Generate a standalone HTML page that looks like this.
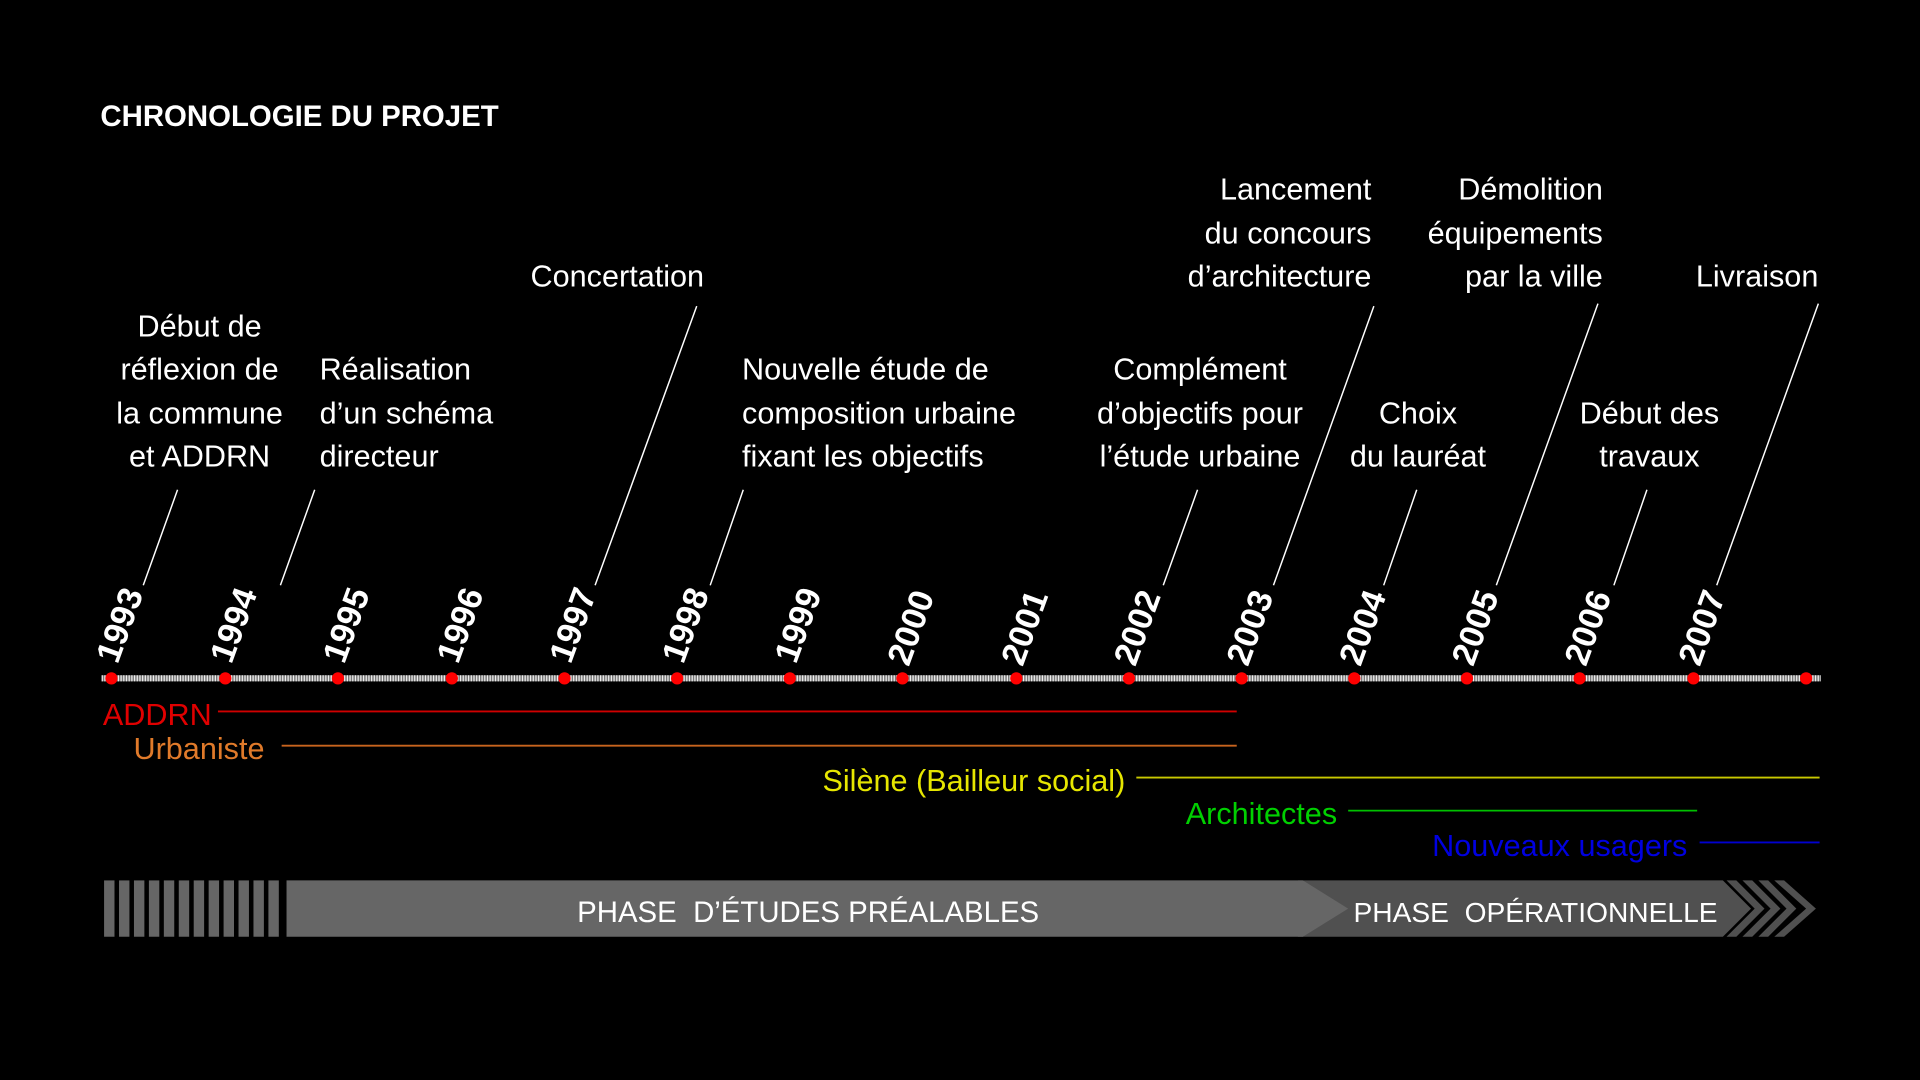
<!DOCTYPE html>
<html><head><meta charset="utf-8"><style>
html,body{margin:0;padding:0;background:#000;width:1920px;height:1080px;overflow:hidden}
svg{display:block}
text{font-family:"Liberation Sans",sans-serif}
.l{fill:#fff;font-size:25px}
.ld{stroke:#fff;stroke-width:1.2}
.y{fill:#fff;font-size:28px;font-weight:bold}
</style></head><body>
<svg width="1920" height="1080" viewBox="0 0 1568 882" xmlns="http://www.w3.org/2000/svg">
<rect width="1568" height="882" fill="#000"/>
<text x="82" y="103" fill="#fff" font-size="24" font-weight="bold">CHRONOLOGIE DU PROJET</text>

<g class="l" text-anchor="middle">
<text x="163" y="275">Début de</text><text x="163" y="310">réflexion de</text><text x="163" y="346">la commune</text><text x="163" y="381">et ADDRN</text>
<text x="980" y="310">Complément</text><text x="980" y="346">d’objectifs pour</text><text x="980" y="381">l’étude urbaine</text>
<text x="1158" y="346">Choix</text><text x="1158" y="381">du lauréat</text>
<text x="1347" y="346">Début des</text><text x="1347" y="381">travaux</text>
</g>
<g class="l">
<text x="261" y="310">Réalisation</text><text x="261" y="346">d’un schéma</text><text x="261" y="381">directeur</text>
<text x="606" y="310">Nouvelle étude de</text><text x="606" y="346">composition urbaine</text><text x="606" y="381">fixant les objectifs</text>
</g>
<g class="l" text-anchor="end">
<text x="575" y="234">Concertation</text>
<text x="1120" y="163">Lancement</text><text x="1120" y="199">du concours</text><text x="1120" y="234">d’architecture</text>
<text x="1309" y="163">Démolition</text><text x="1309" y="199">équipements</text><text x="1309" y="234">par la ville</text>
<text x="1485" y="234">Livraison</text>
</g>
<g class="ld">
<line x1="145" y1="400" x2="117" y2="478"/>
<line x1="257" y1="400" x2="229" y2="478"/>
<line x1="569" y1="250" x2="486" y2="478"/>
<line x1="607" y1="400" x2="580" y2="478"/>
<line x1="978" y1="400" x2="950" y2="478"/>
<line x1="1122" y1="250" x2="1040" y2="478"/>
<line x1="1157" y1="400" x2="1130" y2="478"/>
<line x1="1305" y1="248" x2="1222" y2="478"/>
<line x1="1345" y1="400" x2="1318" y2="478"/>
<line x1="1485" y1="248" x2="1402" y2="478"/>
</g>

<line x1="83" y1="554" x2="1487" y2="554" stroke="#777" stroke-width="5"/>
<line x1="83" y1="554" x2="1487" y2="554" stroke="#eee" stroke-width="5" stroke-dasharray="1 1.2"/>
<g fill="#f00">
<circle cx="91" cy="554" r="5"/><circle cx="184" cy="554" r="5"/><circle cx="276" cy="554" r="5"/><circle cx="369" cy="554" r="5"/><circle cx="461" cy="554" r="5"/><circle cx="553" cy="554" r="5"/><circle cx="645" cy="554" r="5"/><circle cx="737" cy="554" r="5"/><circle cx="830" cy="554" r="5"/><circle cx="922" cy="554" r="5"/><circle cx="1014" cy="554" r="5"/><circle cx="1106" cy="554" r="5"/><circle cx="1198" cy="554" r="5"/><circle cx="1290" cy="554" r="5"/><circle cx="1383" cy="554" r="5"/><circle cx="1475" cy="554" r="5"/>
</g>
<g class="y">
<text transform="translate(96,543) rotate(-70)">1993</text>
<text transform="translate(189,543) rotate(-70)">1994</text>
<text transform="translate(281,543) rotate(-70)">1995</text>
<text transform="translate(374,543) rotate(-70)">1996</text>
<text transform="translate(466,543) rotate(-70)">1997</text>
<text transform="translate(558,543) rotate(-70)">1998</text>
<text transform="translate(650,543) rotate(-70)">1999</text>
<text transform="translate(742,545) rotate(-70)">2000</text>
<text transform="translate(835,545) rotate(-70)">2001</text>
<text transform="translate(927,545) rotate(-70)">2002</text>
<text transform="translate(1019,545) rotate(-70)">2003</text>
<text transform="translate(1111,545) rotate(-70)">2004</text>
<text transform="translate(1203,545) rotate(-70)">2005</text>
<text transform="translate(1295,545) rotate(-70)">2006</text>
<text transform="translate(1388,545) rotate(-70)">2007</text>
</g>

<text x="84" y="592" fill="#e00000" font-size="25">ADDRN</text>
<line x1="178" y1="581" x2="1010" y2="581" stroke="#d00000" stroke-width="1.5"/>
<text x="109" y="620" fill="#e07a2a" font-size="25">Urbaniste</text>
<line x1="230" y1="609" x2="1010" y2="609" stroke="#c8641e" stroke-width="1.5"/>
<text x="919" y="646" fill="#e6e600" font-size="25" text-anchor="end">Silène (Bailleur social)</text>
<line x1="928" y1="635" x2="1486" y2="635" stroke="#c8c800" stroke-width="1.5"/>
<text x="1092" y="673" fill="#00d000" font-size="25" text-anchor="end">Architectes</text>
<line x1="1101" y1="662" x2="1386" y2="662" stroke="#00c000" stroke-width="1.5"/>
<text x="1378" y="699" fill="#0000e0" font-size="25" text-anchor="end">Nouveaux usagers</text>
<line x1="1388" y1="688" x2="1486" y2="688" stroke="#0000d0" stroke-width="1.5"/>

<g fill="#666">
<rect x="85" y="719" width="8.5" height="46"/><rect x="97.2" y="719" width="8.5" height="46"/><rect x="109.4" y="719" width="8.5" height="46"/><rect x="121.6" y="719" width="8.5" height="46"/><rect x="133.8" y="719" width="8.5" height="46"/><rect x="146" y="719" width="8.5" height="46"/><rect x="158.2" y="719" width="8.5" height="46"/><rect x="170.4" y="719" width="8.5" height="46"/><rect x="182.6" y="719" width="8.5" height="46"/><rect x="194.8" y="719" width="8.5" height="46"/><rect x="207" y="719" width="8.5" height="46"/><rect x="219.2" y="719" width="8.5" height="46"/>
</g>
<polygon points="1060,719 1407,719 1430,742 1407,765 1060,765" fill="#505050"/>
<polygon points="234,719 1064,719 1101,742 1064,765 234,765" fill="#666"/>
<g fill="#505050">
<polygon points="1410,719 1418,719 1441,742 1418,765 1410,765 1433,742"/>
<polygon points="1423,719 1431,719 1454,742 1431,765 1423,765 1446,742"/>
<polygon points="1436,719 1444,719 1467,742 1444,765 1436,765 1459,742"/>
<polygon points="1449,719 1457,719 1483,742 1457,765 1449,765 1475,742"/>
</g>
<text x="660" y="753" fill="#fff" font-size="24" text-anchor="middle">PHASE&#160; D’ÉTUDES PRÉALABLES</text>
<text x="1254" y="753" fill="#fff" font-size="23" text-anchor="middle">PHASE&#160; OPÉRATIONNELLE</text>
</svg>
</body></html>
